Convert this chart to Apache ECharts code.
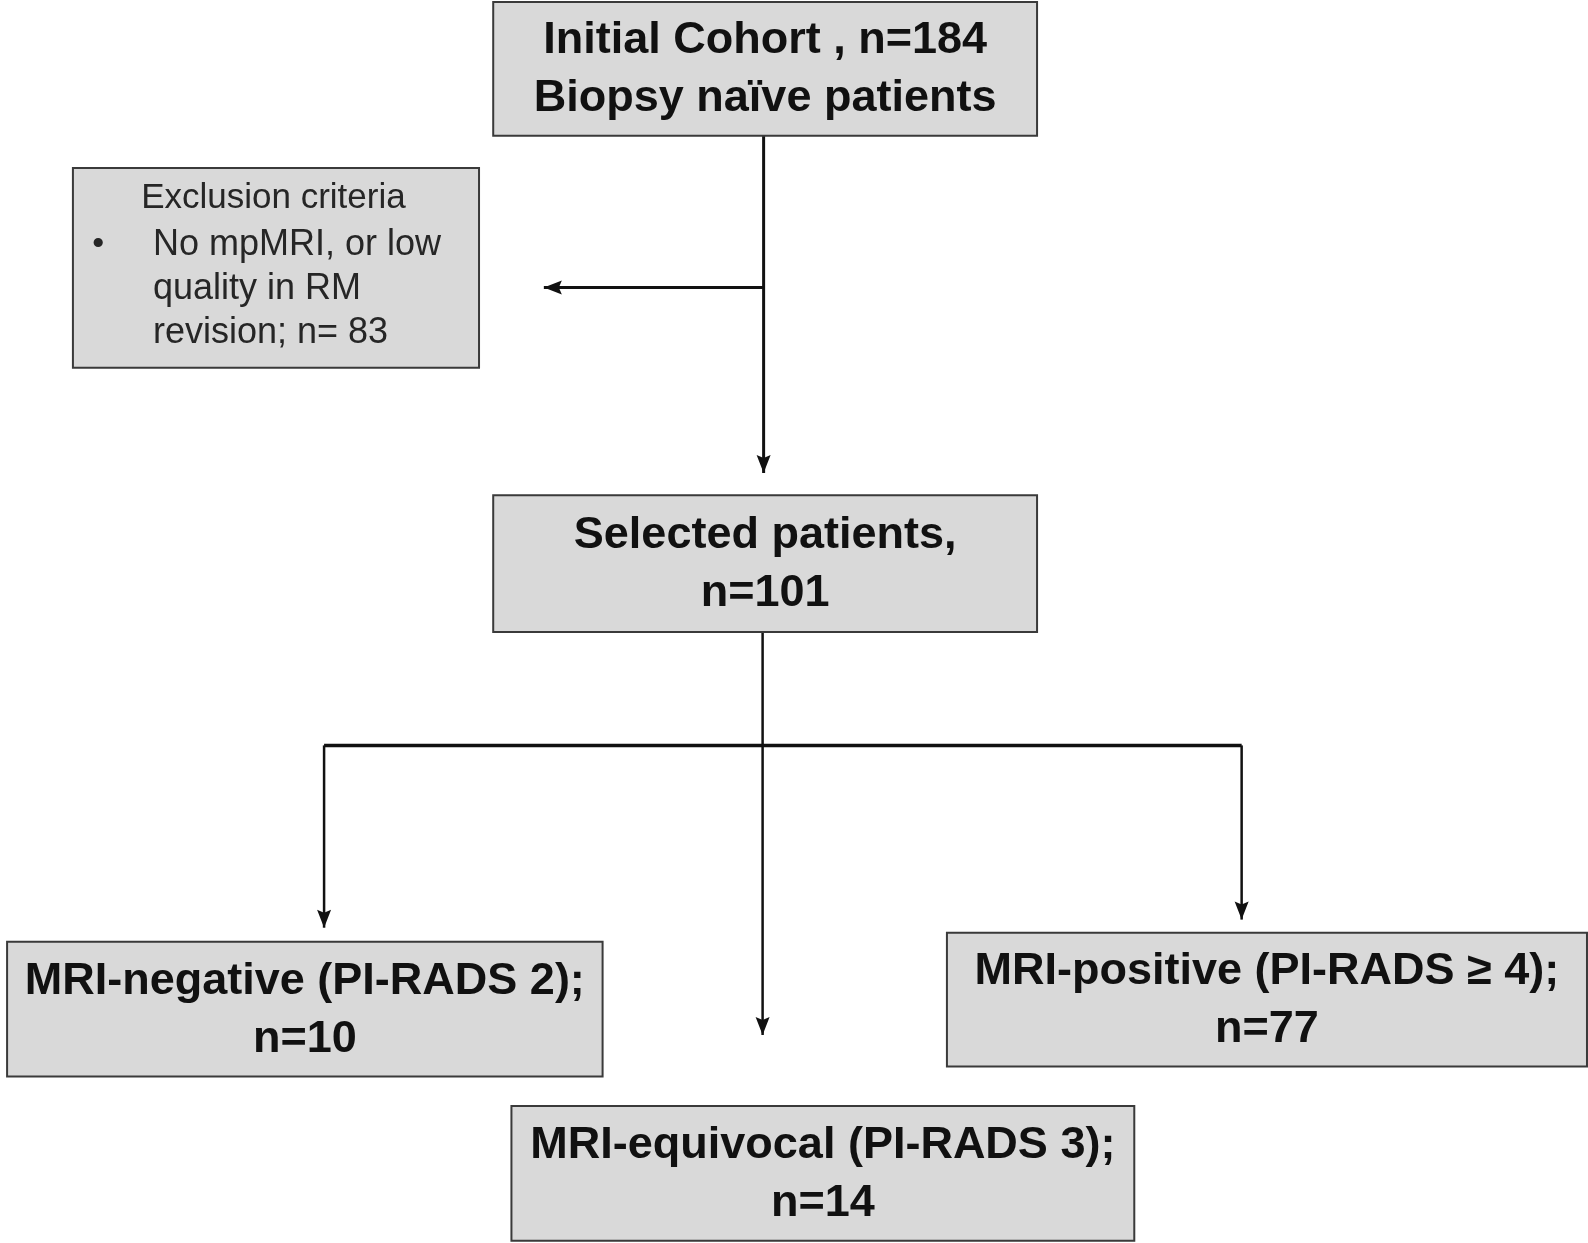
<!DOCTYPE html>
<html>
<head>
<meta charset="utf-8">
<script src="https://cdn.jsdelivr.net/npm/echarts@6/dist/echarts.min.js"></script>
<style>
html,body{margin:0;padding:0;background:#fff;}
#chart{width:1588px;height:1243px;}
</style>
</head>
<body>
<div id="chart"></div>
<script>
// ---- data ----
const stageLabels = ['Initial Cohort', 'Selected patients', 'MRI-negative (PI-RADS 2)', 'MRI-equivocal (PI-RADS 3)', 'MRI-positive (PI-RADS \u2265 4)'];
const stageCounts = [184, 101, 10, 14, 77];
const initialNote = 'Biopsy na\u00efve patients';
const exclusionTitle = 'Exclusion criteria';
const exclusionReason = ['No mpMRI, or low', 'quality in RM', 'revision;'];
const exclusionCount = 83;

// ---- layout (in axis units) ----
const boxLayout = [
  [487, 2, 1024, 134],     // initial
  [487, 489, 1024, 624],   // selected
  [7, 930, 595, 1063],     // negative
  [505, 1092, 1120, 1225], // equivocal
  [935, 921, 1567, 1053]   // positive
];
const exclusionLayout = [72, 166, 473, 363];
const connectors = [
  { pts: [[754, 134], [754, 467]], arrow: true, w: 3 },
  { pts: [[754, 284], [537, 284]], arrow: true, w: 3 },
  { pts: [[753, 624], [753, 1022]], arrow: true, w: 2.5 },
  { pts: [[320, 736], [1226, 736]], arrow: false, w: 3.5 },
  { pts: [[320, 736], [320, 916]], arrow: true, w: 2.5 },
  { pts: [[1226, 736], [1226, 908]], arrow: true, w: 2.5 }
];

const boxTexts = stageLabels.map((l, i) => {
  if (i === 0) return l + ' , n=' + stageCounts[i] + '\n' + initialNote;
  if (i === 1) return l + ',\nn=' + stageCounts[i];
  return l + ';\nn=' + stageCounts[i];
});

const AX_W = 1568, AX_H = 1243 * 1568 / 1588;
const K = 1588 / 1568;
const FONT = '"Liberation Sans", Arial, sans-serif';
const chart = echarts.init(document.getElementById('chart'), null, { renderer: 'canvas' });

const option = {
  animation: false,
  backgroundColor: '#ffffff',
  grid: { left: 0, right: 0, top: 0, bottom: 0 },
  xAxis: { type: 'value', min: 0, max: AX_W, show: false },
  yAxis: { type: 'value', min: 0, max: AX_H, inverse: true, show: false },
  series: [
    {
      type: 'custom',
      coordinateSystem: 'cartesian2d',
      data: connectors.map((c, i) => [i]),
      renderItem: function (params, api) {
        const c = connectors[api.value(0)];
        const pts = c.pts.map(p => api.coord(p));
        const children = [{
          type: 'polyline',
          shape: { points: pts },
          style: { stroke: '#111', lineWidth: c.w, fill: null }
        }];
        if (c.arrow) {
          const a = pts[pts.length - 2], b = pts[pts.length - 1];
          const dx = b[0] - a[0], dy = b[1] - a[1];
          const len = Math.sqrt(dx * dx + dy * dy);
          const ux = dx / len, uy = dy / len;
          const nx = -uy, ny = ux;
          const L = 18, Wd = 7, N = 15;
          children.push({
            type: 'polygon',
            shape: {
              points: [
                [b[0], b[1]],
                [b[0] - ux * L + nx * Wd, b[1] - uy * L + ny * Wd],
                [b[0] - ux * N, b[1] - uy * N],
                [b[0] - ux * L - nx * Wd, b[1] - uy * L - ny * Wd]
              ]
            },
            style: { fill: '#111' }
          });
        }
        return { type: 'group', children: children };
      },
      z: 1
    },
    {
      type: 'custom',
      coordinateSystem: 'cartesian2d',
      data: boxTexts.map((t, i) => [i]),
      renderItem: function (params, api) {
        const i = api.value(0);
        const b = boxLayout[i];
        const p0 = api.coord([b[0], b[1]]);
        const p1 = api.coord([b[2], b[3]]);
        return {
          type: 'group',
          children: [
            {
              type: 'rect',
              shape: { x: p0[0], y: p0[1], width: p1[0] - p0[0], height: p1[1] - p0[1] },
              style: { fill: '#d9d9d9', stroke: '#3a3a3a', lineWidth: 2 }
            },
            {
              type: 'text',
              style: {
                text: boxTexts[i],
                x: (p0[0] + p1[0]) / 2,
                y: (p0[1] + p1[1]) / 2 + 1,
                align: 'center',
                verticalAlign: 'middle',
                fontFamily: FONT,
                fontWeight: 'bold',
                fontSize: 45,
                lineHeight: 57.5 * K,
                fill: '#111'
              }
            }
          ]
        };
      },
      z: 2
    },
    {
      type: 'custom',
      coordinateSystem: 'cartesian2d',
      data: [[0]],
      renderItem: function (params, api) {
        const b = exclusionLayout;
        const p0 = api.coord([b[0], b[1]]);
        const p1 = api.coord([b[2], b[3]]);
        const reason = exclusionReason.slice(0, 2).concat([exclusionReason[2] + ' n= ' + exclusionCount]).join('\n');
        const base = { fontFamily: FONT, fontSize: 36, fill: '#262626' };
        const T = api.coord([exclusionLayout[0] + 198, 196]);
        const B = api.coord([97, 242]);
        const R = api.coord([151, 285.5]);
        return {
          type: 'group',
          children: [
            {
              type: 'rect',
              shape: { x: p0[0], y: p0[1], width: p1[0] - p0[0], height: p1[1] - p0[1] },
              style: { fill: '#d9d9d9', stroke: '#3a3a3a', lineWidth: 2 }
            },
            {
              type: 'text',
              style: Object.assign({}, base, {
                text: exclusionTitle,
                x: T[0],
                y: T[1],
                align: 'center',
                verticalAlign: 'middle',
                fontSize: 35
              })
            },
            {
              type: 'text',
              style: Object.assign({}, base, {
                text: '\u2022',
                x: B[0],
                y: B[1],
                align: 'center',
                verticalAlign: 'middle',
                fontSize: 34
              })
            },
            {
              type: 'text',
              style: Object.assign({}, base, {
                text: reason,
                x: R[0],
                y: R[1],
                align: 'left',
                verticalAlign: 'middle',
                lineHeight: 43.5 * K
              })
            }
          ]
        };
      },
      z: 2
    }
  ]
};
chart.setOption(option);
</script>
</body>
</html>
